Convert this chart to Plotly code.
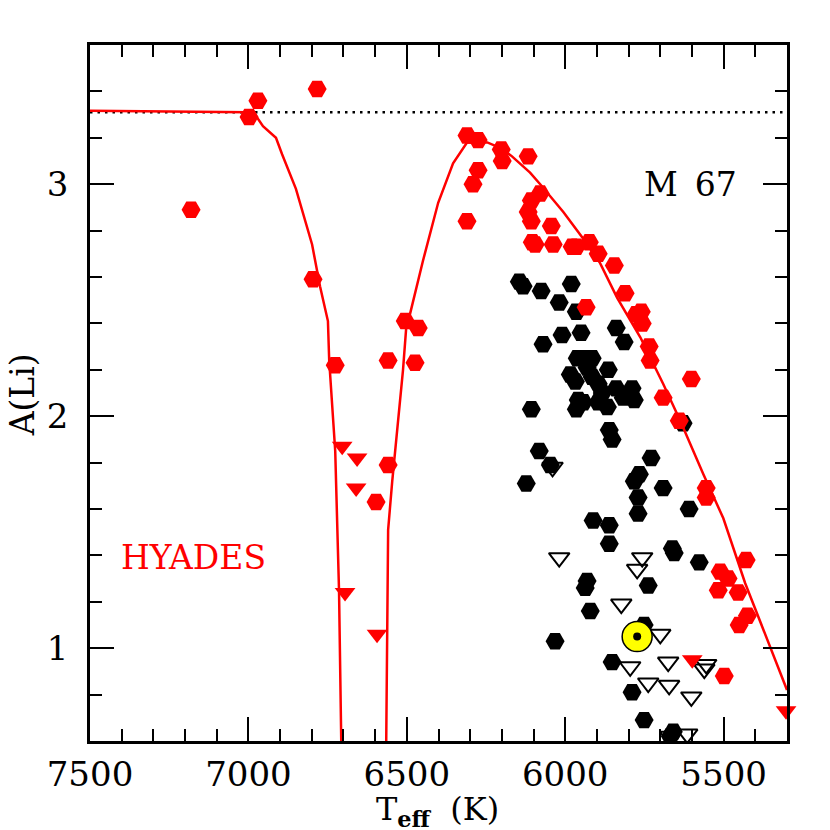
"""Li abundance vs Teff: M 67 stars with the Hyades stars and trend in red."""

import plotly.graph_objects as go

SERIF = "DejaVu Serif"

# Hyades detections
hyades_teff = [7181, 6998, 6970, 6783, 6796, 6726, 6559, 6505, 6464, 6474, 6559, 6597,
               6310, 6275, 6202, 6199, 6117, 6275, 6291, 6310, 6079, 6107, 6117, 6107,
               6044, 6104, 6095, 6038, 5978, 5965, 5924, 5896, 5845, 5811, 5760, 5776,
               5757, 5735, 5732, 5602, 5691, 5640, 5934, 5555, 5555, 5429, 5511, 5486,
               5517, 5454, 5425, 5451, 5498]
hyades_ali = [2.89, 3.29, 3.36, 3.41, 2.59, 2.22, 2.24, 2.41, 2.38, 2.23, 1.79, 1.63,
              3.21, 3.19, 3.15, 3.10, 3.12, 3.06, 3.00, 2.84, 2.96, 2.93, 2.88, 2.84,
              2.82, 2.75, 2.74, 2.74, 2.73, 2.73, 2.75, 2.70, 2.65, 2.53, 2.45, 2.44,
              2.40, 2.30, 2.24, 2.16, 2.08, 1.98, 2.47, 1.69, 1.65, 1.38, 1.33, 1.30,
              1.25, 1.24, 1.14, 1.10, 0.88]

# Hyades upper limits
hyades_lim_teff = [6704, 6657, 6660, 6695, 6594, 5599, 5303]
hyades_lim_ali = [1.87, 1.82, 1.69, 1.24, 1.06, 0.95, 0.73]

# M 67 detections
m67_teff = [6145, 6133, 6076, 5981, 6019, 5965, 5839, 5814, 5950, 6010, 6070, 5962,
            5937, 5915, 5931, 5864, 5915, 5984, 5968, 5896, 5839, 5789, 5883, 5817,
            5782, 5959, 5943, 5896, 5867, 5965, 6107, 5628, 5861, 5852, 6082, 6047,
            6123, 5729, 5766, 5782, 5691, 5770, 5770, 5609, 5912, 5861, 5861, 5662,
            5656, 5577, 5931, 5937, 5738, 5921, 5751, 6032, 5852, 5789, 5751, 5659,
            5668]
m67_ali = [2.58, 2.56, 2.54, 2.57, 2.49, 2.45, 2.38, 2.32, 2.36, 2.35, 2.31, 2.25,
           2.25, 2.25, 2.21, 2.20, 2.17, 2.18, 2.15, 2.14, 2.12, 2.12, 2.10, 2.08,
           2.07, 2.07, 2.06, 2.06, 2.04, 2.03, 2.03, 1.97, 1.94, 1.90, 1.85, 1.79,
           1.71, 1.82, 1.75, 1.72, 1.69, 1.65, 1.58, 1.60, 1.55, 1.53, 1.45, 1.43,
           1.41, 1.37, 1.29, 1.26, 1.27, 1.16, 1.10, 1.03, 0.94, 0.81, 0.69, 0.64,
           0.62]

# M 67 upper limits
m67_lim_teff = [6019, 5757, 5773, 5823, 5700, 5675, 5795, 5738, 5672, 5602, 5555, 5561,
                5615, 5668, 6040]
m67_lim_ali = [1.39, 1.39, 1.34, 1.19, 1.06, 0.94, 0.92, 0.85, 0.84, 0.79, 0.93, 0.91,
               0.63, 0.62, 1.78]

# Hyades trend line, None breaks it where it drops off the bottom of the plot
curve_teff = [7500, 7000, 6979, 6954, 6913, 6894, 6850, 6799, 6774, 6749, 6745, 6726,
              6714, 6707, None, 6565, 6562, 6559, 6546, 6512, 6502, 6490, 6449, 6401, 6354,
              6310, 6246, 6202, 6168, 6111, 6079, 6006, 5946, 5890, 5836, 5763, 5691,
              5637, 5564, 5501, 5432, 5300]
curve_ali = [3.317, 3.31, 3.30, 3.25, 3.20, 3.13, 2.98, 2.74, 2.56, 2.41, 2.24, 1.85,
             1.25, 0.6, None, 0.6, 1.21, 1.51, 1.72, 2.20, 2.38, 2.44, 2.67, 2.92, 3.09,
             3.18, 3.18, 3.155, 3.12, 3.05, 3.00, 2.88, 2.77, 2.66, 2.51, 2.34, 2.14,
             1.98, 1.75, 1.56, 1.28, 0.82]

# meteoritic value
dotted_teff = [7500, 5300]
dotted_ali = [3.31, 3.31]

sun_teff = [5773]
sun_ali = [1.05]

fig = go.Figure()

fig.add_trace(go.Scatter(x=dotted_teff, y=dotted_ali, mode="lines",
                         line=dict(color="black", width=2.5, dash="2.5px,5px")))
fig.add_trace(go.Scatter(x=m67_teff, y=m67_ali, mode="markers",
                         marker=dict(symbol="hexagon2", size=19, color="black")))
fig.add_trace(go.Scatter(x=m67_lim_teff, y=m67_lim_ali, mode="markers",
                         marker=dict(symbol="triangle-down-open", size=18, color="black",
                                     line=dict(color="black", width=2))))
fig.add_trace(go.Scatter(x=curve_teff, y=curve_ali, mode="lines",
                         line=dict(color="#ff0000", width=2.5)))
fig.add_trace(go.Scatter(x=hyades_teff, y=hyades_ali, mode="markers",
                         marker=dict(symbol="hexagon2", size=19, color="#ff0000")))
# the last limit sits on the right edge and is drawn whole in the reference
fig.add_trace(go.Scatter(x=hyades_lim_teff, y=hyades_lim_ali, mode="markers", cliponaxis=False,
                         marker=dict(symbol="triangle-down", size=18, color="#ff0000")))
fig.add_trace(go.Scatter(x=sun_teff, y=sun_ali, mode="markers",
                         marker=dict(symbol="circle", size=30, color="#ffff00",
                                     line=dict(color="black", width=1.5))))
fig.add_trace(go.Scatter(x=sun_teff, y=sun_ali, mode="markers",
                         marker=dict(symbol="circle", size=8, color="black")))

axis_style = dict(
    showgrid=False, zeroline=False, showline=True, linecolor="black", linewidth=2.5,
    mirror="ticks", ticks="inside", tickwidth=2, tickcolor="black", ticklen=24,
    tickfont=dict(family=SERIF, size=34, color="black"),
)
fig.update_xaxes(range=[7500, 5300], tick0=5000, dtick=500, ticklabelstandoff=1,
                 minor=dict(dtick=100, ticks="inside", ticklen=12, tickwidth=2, tickcolor="black"),
                 **axis_style)
fig.update_yaxes(range=[0.6, 3.6], tick0=0, dtick=1, ticklabelstandoff=12,
                 minor=dict(dtick=0.2, ticks="inside", ticklen=12, tickwidth=2, tickcolor="black"),
                 **axis_style)

fig.add_annotation(text="M\u2009 67", x=5605, y=3.0, showarrow=False,
                   font=dict(family=SERIF, size=33, color="black"))
fig.add_annotation(text="HYADES", x=7172, y=1.39, showarrow=False,
                   font=dict(family=SERIF, size=33, color="#ff0000"))
fig.add_annotation(text="T<sub><b>eff</b></sub>  (K)", xref="paper", yref="paper",
                   x=0.499, y=-0.1, xanchor="center", yanchor="middle", showarrow=False,
                   font=dict(family=SERIF, size=32, color="black"))
fig.add_annotation(text="A(Li)", xref="paper", yref="paper", x=-0.0976, y=0.498,
                   xanchor="center", yanchor="middle", textangle=-90, showarrow=False,
                   font=dict(family=SERIF, size=33, color="black"))

# the page body adds 8px around the plot, so size and margins allow for that
fig.update_layout(
    width=822, height=822, showlegend=False, plot_bgcolor="white", paper_bgcolor="white",
    margin=dict(l=82, r=43, t=37, b=89),
)

fig.write_html("out.html")
